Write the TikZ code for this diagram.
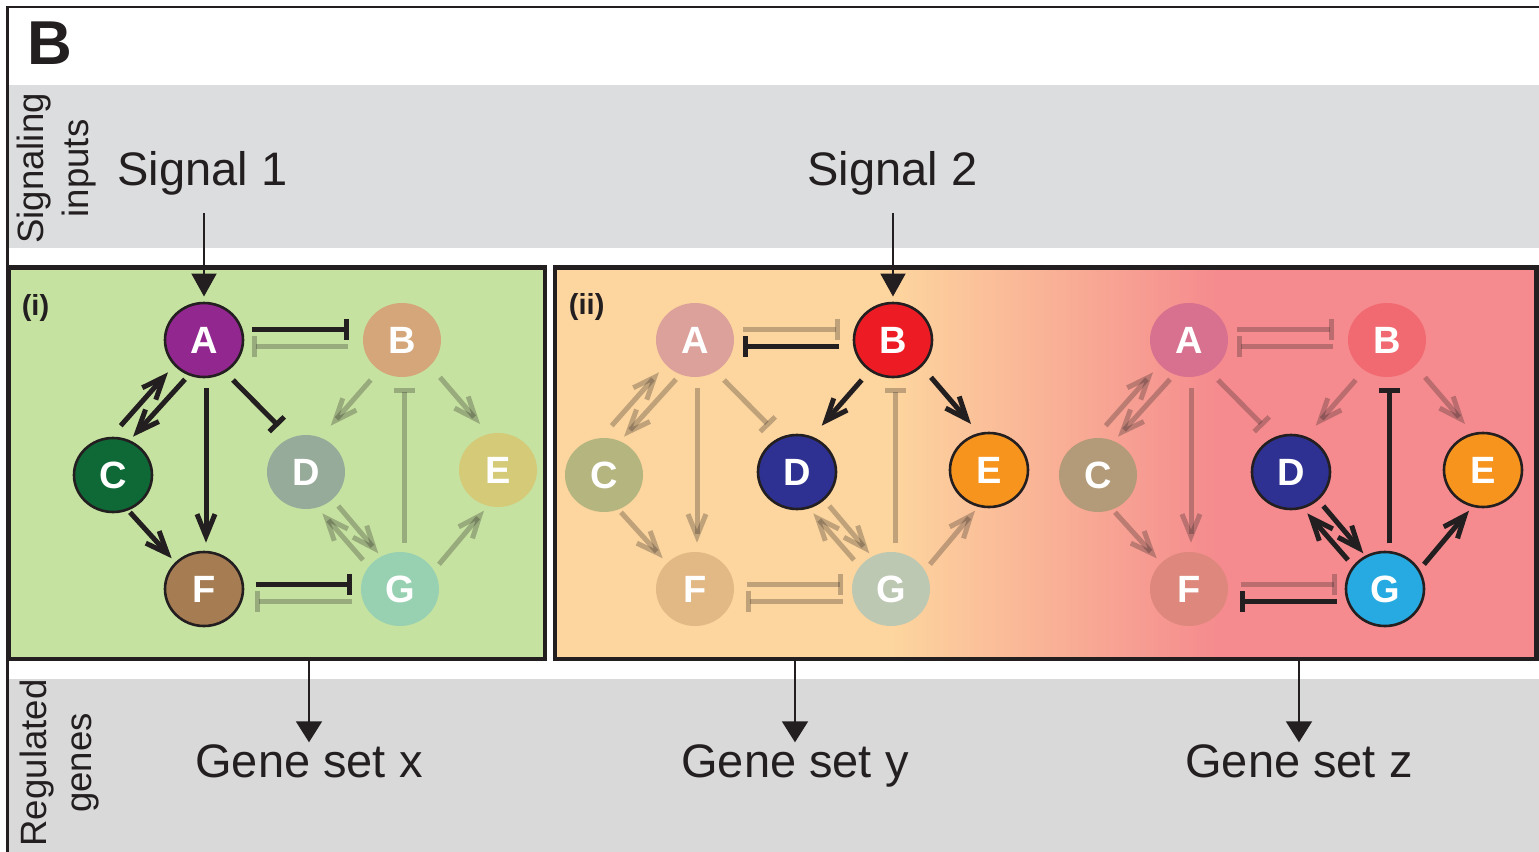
\documentclass[tikz,border=0pt]{standalone}
\usepackage{fontspec}
\setmainfont{Liberation Sans}
\usepackage{tikz}
\usetikzlibrary{arrows.meta,shapes.geometric,calc}

\definecolor{ink}{HTML}{231F20}
\definecolor{bandtop}{HTML}{DCDDDF}
\definecolor{bandbot}{HTML}{D9D9D9}
\definecolor{grn}{HTML}{C6E2A0}
\definecolor{org}{HTML}{FDD59E}
\definecolor{pnk}{HTML}{F58B8E}
\definecolor{tfpurple}{HTML}{92278F}
\definecolor{tfgreen}{HTML}{0F6937}
\definecolor{tfbrown}{HTML}{A67C52}
\definecolor{tfred}{HTML}{ED1C24}
\definecolor{tfnavy}{HTML}{2E3192}
\definecolor{tforange}{HTML}{F7941E}
\definecolor{tfcyan}{HTML}{27AAE1}
\definecolor{fB1}{HTML}{D4A67A}
\definecolor{fD1}{HTML}{97AB9A}
\definecolor{fE1}{HTML}{D4CA77}
\definecolor{fG1}{HTML}{98D1B2}
\definecolor{fA2}{HTML}{DCA19A}
\definecolor{fC2}{HTML}{B5B57F}
\definecolor{fF2}{HTML}{E2B985}
\definecolor{fG2}{HTML}{BCC8B2}
\definecolor{fA3}{HTML}{D7718F}
\definecolor{fB3}{HTML}{F26A71}
\definecolor{fC3}{HTML}{B39A78}
\definecolor{fF3}{HTML}{DE877D}

\pgfdeclarehorizontalshading{tfshade}{100bp}{color(0bp)=(org); color(42.2bp)=(org); color(58.7bp)=(pnk); color(100bp)=(pnk)}

\newcommand{\tfedges}{%
  \draw[eAB, inh] ($(A)+(48,-11)$) -- ($(B)+(-53,-11)$);
  \draw[eBA, inh] ($(B)+(-54,6.5)$) -- ($(A)+(48,6.5)$);
  \draw[eAC, act] ($(A)+(-19,39.3)$) -- ($(C)+(20,-38.3)$);
  \draw[eCA, act] ($(C)+(7.7,-49.3)$) -- ($(A)+(-36,32.3)$);
  \draw[eAF, act] ($(A)+(2,48.3)$) -- ($(F)+(2,-46.3)$);
  \draw[eAD, inh] ($(A)+(29,40)$) -- ($(D)+(-27.5,-46)$);
  \draw[eBD, act] ($(B)+(-31.3,40)$) -- ($(D)+(24.7,-46.3)$);
  \draw[eBE, act] ($(B)+(38,37.3)$) -- ($(E)+(-18,-46)$);
  \draw[eGB, inh] ($(G)+(4.7,-45.7)$) -- ($(B)+(2.7,48.3)$);
  \draw[eCF, act] ($(C)+(17,37.3)$) -- ($(F)+(-32.3,-30.7)$);
  \draw[eDG, act] ($(D)+(32.3,34)$) -- ($(G)+(-21.7,-35.7)$);
  \draw[eGD, act] ($(G)+(-37,-29)$) -- ($(D)+(16.3,41.3)$);
  \draw[eGE, act] ($(G)+(39,-24.7)$) -- ($(E)+(-14,40.7)$);
  \draw[eFG, inh] ($(F)+(51.7,-4.7)$) -- ($(G)+(-47.7,-4.7)$);
  \draw[eGF, inh] ($(G)+(-48.3,12.7)$) -- ($(F)+(51,12.7)$);
}

\begin{document}
\begin{tikzpicture}[x=0.5pt, y=-0.5pt,
    tf/.style={ellipse, minimum width=39pt, minimum height=37pt, inner sep=0pt,
      text=white, font=\bfseries\fontsize{19}{19}\selectfont},
    ring/.style={draw=ink, line width=1.3pt},
    frame/.style={draw=ink, line width=2.25pt, inner sep=0pt},
    act/.style={line width=2.5pt, -{Straight Barb[length=11pt, width=9pt]}},
    inh/.style={line width=2.5pt, -{Bar[width=10.5pt]}},
    lit/.style={draw=ink},
    dim/.style={draw=ink, draw opacity=0.28},
    eAB/.style=dim, eBA/.style=dim, eAC/.style=dim, eCA/.style=dim, eAF/.style=dim,
    eAD/.style=dim, eBD/.style=dim, eBE/.style=dim, eGB/.style=dim, eCF/.style=dim,
    eDG/.style=dim, eGD/.style=dim, eGE/.style=dim, eFG/.style=dim, eGF/.style=dim,
    big/.style={text=ink, inner sep=0pt, font=\fontsize{23.5}{28}\selectfont},
    side/.style={text=ink, inner sep=0pt, align=center, rotate=90,
      font=\fontsize{18.3}{22.5}\selectfont},
    tag/.style={text=ink, inner sep=0pt, font=\bfseries\fontsize{14.5}{17}\selectfont},
    inarr/.style={draw=ink, line width=1pt, -{Triangle[length=11.5pt, width=12.5pt]}},
    outarr/.style={draw=ink, line width=1pt, -{Triangle[length=10.5pt, width=13pt]}}]
  \useasboundingbox (0,0) rectangle (1539,852);
  \fill[white] (0,0) rectangle (1539,852);
  \fill[bandtop] (8.5,85) rectangle (1539,248.3);
  \fill[bandbot] (8.5,679) rectangle (1539,852);
  \draw[ink, line width=1.1pt] (7.5,852) |- (1539,7);

  \node[text=ink, inner sep=0pt, font=\bfseries\fontsize{31}{31}\selectfont] (lbl) at (49.5,43) {B};
  \node[side] (sigin) at (56.6,168.5) {Signaling\\inputs};
  \node[side] (reg) at (60,763) {Regulated\\genes};
  \node[side, font=\bfseries\fontsize{18.5}{22}\selectfont] (tfnet) at (34.7,468.3) {TF network};

  \node[frame, fill=grn, minimum width=268pt, minimum height=195.75pt] (boxi) at (277,463.25) {};
  \node[frame, shade, shading=tfshade, minimum width=490.75pt, minimum height=195.75pt] (boxii) at (1045.75,463.25) {};
  \node[tag] (tagi) at (35.5,308) {(i)};
  \node[tag] (tagii) at (586.7,306.7) {(ii)};

  \begin{scope}[name prefix=i-, eAB/.style=lit, eAC/.style=lit, eCA/.style=lit,
      eAF/.style=lit, eAD/.style=lit, eCF/.style=lit, eFG/.style=lit]
    \node[tf, ring, fill=tfpurple] (A) at (204,340) {A};
    \node[tf, fill=fB1] (B) at (402,340) {B};
    \node[tf, ring, fill=tfgreen] (C) at (113,475) {C};
    \node[tf, fill=fD1] (D) at (306,472) {D};
    \node[tf, fill=fE1] (E) at (498,470) {E};
    \node[tf, ring, fill=tfbrown] (F) at (204,589) {F};
    \node[tf, fill=fG1] (G) at (400,589) {G};
    \tfedges
  \end{scope}

  \begin{scope}[shift={(491,0)}, name prefix=ii-, eBA/.style=lit, eBD/.style=lit, eBE/.style=lit]
    \node[tf, fill=fA2] (A) at (204,340) {A};
    \node[tf, ring, fill=tfred] (B) at (402,340) {B};
    \node[tf, fill=fC2] (C) at (113,475) {C};
    \node[tf, ring, fill=tfnavy] (D) at (306,472) {D};
    \node[tf, ring, fill=tforange] (E) at (498,470) {E};
    \node[tf, fill=fF2] (F) at (204,589) {F};
    \node[tf, fill=fG2] (G) at (400,589) {G};
    \tfedges
  \end{scope}

  \begin{scope}[shift={(985,0)}, name prefix=iii-, eGB/.style=lit, eDG/.style=lit,
      eGD/.style=lit, eGE/.style=lit, eGF/.style=lit]
    \node[tf, fill=fA3] (A) at (204,340) {A};
    \node[tf, fill=fB3] (B) at (402,340) {B};
    \node[tf, fill=fC3] (C) at (113,475) {C};
    \node[tf, ring, fill=tfnavy] (D) at (306,472) {D};
    \node[tf, ring, fill=tforange] (E) at (498,470) {E};
    \node[tf, fill=fF3] (F) at (204,589) {F};
    \node[tf, ring, fill=tfcyan] (G) at (400,589) {G};
    \tfedges
  \end{scope}

  \node[big, anchor=base] (sig1) at (202.5,185.5) {Signal 1};
  \node[big, anchor=base] (sig2) at (892.5,185.5) {Signal 2};
  \draw[inarr, shorten <=13.75pt, shorten >=2.6pt] (sig1.base -| i-A.north) -- (i-A.north);
  \draw[inarr, shorten <=13.75pt, shorten >=2.6pt] (sig2.base -| ii-B.north) -- (ii-B.north);

  \node[big, anchor=base] (gx) at (309,777.5) {Gene set x};
  \node[big, anchor=base] (gy) at (795,777.5) {Gene set y};
  \node[big, anchor=base] (gz) at (1299,777.5) {Gene set z};
  \draw[outarr, shorten >=1pt] (boxi.south -| gx.north) -- (gx.north);
  \draw[outarr, shorten >=1pt] (boxii.south -| gy.north) -- (gy.north);
  \draw[outarr, shorten >=1pt] (boxii.south -| gz.north) -- (gz.north);
\end{tikzpicture}
\end{document}
